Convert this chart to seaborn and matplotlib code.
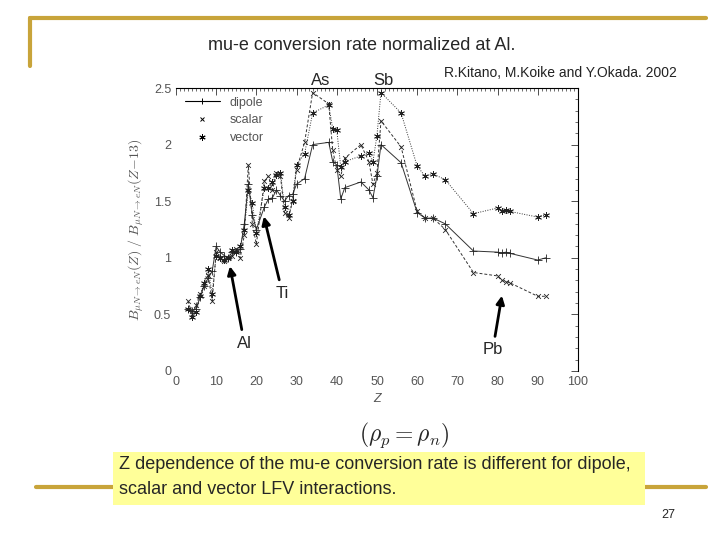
import numpy as np
import pandas as pd
import matplotlib
matplotlib.use("Agg")
import matplotlib.pyplot as plt
from matplotlib.patches import Rectangle
from matplotlib.lines import Line2D
from matplotlib.ticker import MultipleLocator
import seaborn as sns

# atomic numbers of the nuclei used
Z = [3, 4, 5, 6, 7, 8, 9, 10, 11, 12, 13, 14, 15, 16, 17, 18, 19, 20,
     22, 23, 24, 25, 26, 27, 28, 29, 30, 32, 34, 38, 39, 40, 41, 42, 46,
     48, 49, 50, 51, 56, 60, 62, 64, 67, 74, 80, 81, 82, 83, 90, 92]

# conversion rate normalized at Al
dipole = [0.55, 0.53, 0.55, 0.65, 0.75, 0.82, 0.88, 1.10, 1.05, 1.02, 1.00,
          1.05, 1.05, 1.08, 1.30, 1.65, 1.38, 1.25, 1.45, 1.52, 1.53, 1.60,
          1.55, 1.50, 1.55, 1.56, 1.65, 1.70, 2.00, 2.02, 1.85, 1.82, 1.52,
          1.62, 1.67, 1.60, 1.53, 1.72, 2.00, 1.84, 1.40, 1.35, 1.35, 1.30,
          1.06, 1.05, 1.04, 1.05, 1.04, 0.98, 1.00]
scalar = [0.62, 0.50, 0.58, 0.68, 0.75, 0.85, 0.62, 1.05, 1.00, 0.97, 1.00,
          1.02, 1.08, 1.00, 1.20, 1.82, 1.30, 1.12, 1.68, 1.72, 1.60, 1.75,
          1.72, 1.40, 1.35, 1.50, 1.78, 2.02, 2.46, 2.36, 1.95, 1.78, 1.72,
          1.88, 2.00, 1.85, 1.65, 1.75, 2.21, 1.98, 1.41, 1.35, 1.35, 1.25,
          0.87, 0.84, 0.80, 0.79, 0.78, 0.66, 0.66]
vector = [0.55, 0.48, 0.52, 0.66, 0.78, 0.90, 0.68, 1.02, 1.00, 0.98, 1.00,
          1.07, 1.05, 1.10, 1.25, 1.60, 1.48, 1.22, 1.62, 1.62, 1.67, 1.73,
          1.75, 1.45, 1.38, 1.50, 1.82, 1.92, 2.28, 2.35, 2.14, 2.13, 1.80,
          1.85, 1.90, 1.93, 1.85, 2.08, 2.46, 2.28, 1.81, 1.72, 1.74, 1.69,
          1.39, 1.44, 1.41, 1.42, 1.41, 1.36, 1.38]

gold = "#c8a43a"
grey = "#555555"
ast = (6, 2, 0)   # asterisk marker, like gnuplot's '*'

sns.set_style("white")
plt.rcParams['font.family'] = ['Liberation Sans', 'DejaVu Sans']
plt.rcParams['mathtext.fontset'] = 'cm'

fig = plt.figure(figsize=(7.2, 5.4), dpi=100)

# slide decoration
fig.add_artist(Line2D([0.042, 0.98], [0.967, 0.967], color=gold, lw=3, zorder=1))
fig.add_artist(Line2D([0.042, 0.042], [0.967, 0.878], color=gold, lw=3, zorder=1))
fig.add_artist(Line2D([0.05, 0.98], [0.098, 0.098], color=gold, lw=3, zorder=1))
fig.add_artist(Rectangle((0.157, 0.065), 0.739, 0.098, transform=fig.transFigure,
                         facecolor="#ffff99", edgecolor="none", zorder=2))
fig.text(0.503, 0.915, "mu-e conversion rate normalized at Al.", ha="center",
         va="center", fontsize=13)
fig.text(0.778, 0.864, "R.Kitano, M.Koike and Y.Okada. 2002", ha="center",
         va="center", fontsize=10, color="#222222")
fig.text(0.165, 0.140, "Z dependence of the mu-e conversion rate is different for dipole,",
         ha="left", va="center", fontsize=13, zorder=3)
fig.text(0.165, 0.093, "scalar and vector LFV interactions.", ha="left", va="center",
         fontsize=13, zorder=3)
fig.text(0.928, 0.046, "27", ha="center", va="center", fontsize=9)
fig.text(0.562, 0.194, r"$(\rho_p = \rho_n)$", ha="center", va="center", fontsize=17)

ax = fig.add_axes([0.2444, 0.313, 0.5583, 0.524])

df = pd.DataFrame({"Z": Z, "dipole": dipole, "scalar": scalar, "vector": vector})
styles = {"dipole": ("-", "+", 30), "scalar": ((0, (3, 2)), "x", 12),
          "vector": ((0, (1, 1.5)), ast, 20)}
for name, (ls, mk, sz) in styles.items():
    sns.lineplot(data=df, x="Z", y=name, ax=ax, color="#333333", lw=0.7, ls=ls,
                 legend=False)
    sns.scatterplot(data=df, x="Z", y=name, ax=ax, color="#222222", marker=mk, s=sz,
                    linewidth=0.6, legend=False, zorder=3)

ax.set_xlim(0, 100)
ax.set_ylim(0, 2.5)
ax.set_xticks(range(0, 101, 10))
ax.set_yticks([0, 0.5, 1, 1.5, 2, 2.5])
ax.set_yticklabels(["0", "0.5", "1", "1.5", "2", "2.5"])
ax.xaxis.set_minor_locator(MultipleLocator(1))
ax.yaxis.set_minor_locator(MultipleLocator(0.1))
ax.tick_params(which="both", direction="in", top=True, right=True, colors="#333333",
               labelcolor=grey, labelsize=9)
ax.tick_params(which="major", length=5, width=0.6)
ax.tick_params(which="minor", length=2.5, width=0.5)
for side in ["left", "bottom"]:
    ax.spines[side].set_visible(False)
for side in ["top", "right"]:
    ax.spines[side].set_color("k")
    ax.spines[side].set_linewidth(0.8)
ax.set_xlabel("Z", fontsize=9, color=grey, style="italic", labelpad=4)
ax.set_ylabel(r"$B_{\mu N \to eN}(Z)\ /\ B_{\mu N \to eN}(Z\!-\!13)$", fontsize=10,
              color=grey, labelpad=6)

handles = [Line2D([], [], color="k", lw=0.8, marker="+", ms=5, mew=0.7),
           Line2D([], [], color="k", lw=0, marker="x", ms=3.5, mew=0.7),
           Line2D([], [], color="k", lw=0, marker=ast, ms=4.5, mew=0.7)]
leg = ax.legend(handles, ["dipole", "scalar", "vector"], loc="upper left",
                frameon=False, fontsize=9, handlelength=2.8, borderaxespad=0.3,
                labelspacing=0.45)
for t in leg.get_texts():
    t.set_color(grey)

# element annotations
ax.text(36, 2.57, "As", ha="center", va="center", fontsize=12, clip_on=False)
ax.text(51.5, 2.57, "Sb", ha="center", va="center", fontsize=12, clip_on=False)
ax.annotate("Ti", xy=(21.7, 1.39), xytext=(26.5, 0.62), fontsize=12,
            ha="center", va="bottom",
            arrowprops=dict(arrowstyle="-|>", color="k", lw=2, mutation_scale=12))
ax.annotate("Al", xy=(13.3, 0.95), xytext=(17, 0.18), fontsize=12,
            ha="center", va="bottom",
            arrowprops=dict(arrowstyle="-|>", color="k", lw=2, mutation_scale=12))
ax.annotate("Pb", xy=(81.2, 0.69), xytext=(78.8, 0.12), fontsize=12,
            ha="center", va="bottom",
            arrowprops=dict(arrowstyle="-|>", color="k", lw=2, mutation_scale=12))

fig.savefig("out.png", dpi=100)
